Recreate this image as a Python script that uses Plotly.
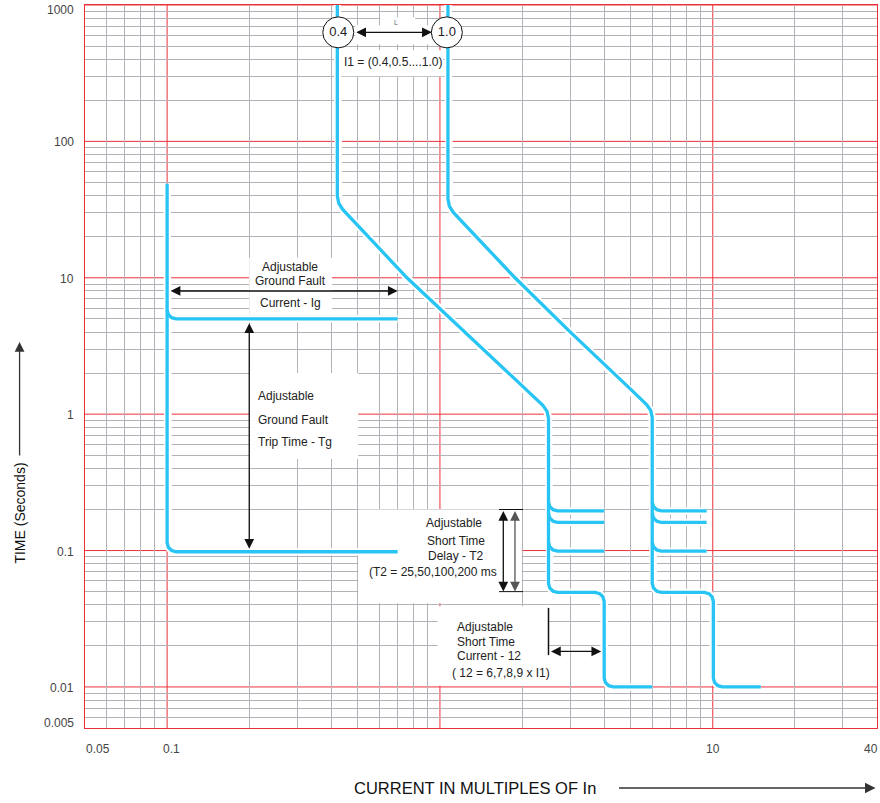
import numpy as np
import plotly.graph_objects as go

# ---------------- data ----------------
# axis labels
x_tick_vals = [0.05, 0.1, 10, 40]
x_tick_text = ["0.05", "0.1", "10", "40"]
y_tick_vals = [1000, 100, 10, 1, 0.1, 0.01, 0.005]
y_tick_text = ["1000", "100", "10", "1", "0.1", "0.01", "0.005"]

# grid
x_decades = [0.1, 1, 10]
x_minor = [0.06, 0.07, 0.08, 0.09, 0.2, 0.3, 0.4, 0.5, 0.6, 0.7, 0.8, 0.9,
           2, 3, 4, 5, 6, 7, 8, 9, 20, 30]
y_decades = [0.01, 0.1, 1, 10, 100, 1000]
y_minor = [0.006, 0.007, 0.008, 0.009,
           0.02, 0.03, 0.04, 0.05, 0.06, 0.07, 0.08, 0.09,
           0.2, 0.3, 0.4, 0.5, 0.6, 0.7, 0.8, 0.9,
           2, 3, 4, 5, 6, 7, 8, 9,
           20, 30, 40, 50, 60, 70, 80, 90,
           200, 300, 400, 500, 600, 700, 800, 900]

# ground fault curve (current in multiples of In, time in s)
gf_I = [0.1, 0.1, 0.101, 0.1039, 0.1079, 0.7]
gf_t = [49, 0.114, 0.1057, 0.1, 0.098, 0.098]
gf5_I = [0.1, 0.101, 0.1039, 0.1079, 0.7]
gf5_t = [5.82, 5.39, 5.10, 5.0, 5.0]

# long-time / short-time / instantaneous curve, I1 = 0.4
c04_I = [0.4206, 0.4206, 0.4256, 0.44, 0.757, 1.0, 2.02, 2.383, 2.469, 2.5,
         2.5, 2.526, 2.597, 2.697,
         3.708, 3.851, 3.959, 4.0,
         4.0, 4.041, 4.155, 4.315, 6.0]
c04_t = [1000, 39.85, 35.24, 31.68, 10, 5.96, 1.585, 1.16, 1.049, 0.93,
         0.0574, 0.05319, 0.05031, 0.0493,
         0.0493, 0.04831, 0.04569, 0.04235,
         0.01164, 0.01079, 0.01021, 0.01, 0.01]
c04_band_I = [2.5, 2.526, 2.597, 2.697, 4.0]

# same curve, I1 = 1.0
c10_I = [1.07, 1.07, 1.0826, 1.1195, 1.884, 3.0, 5.04, 5.72, 5.926, 6.0,
         6.0, 6.062, 6.232, 6.473,
         9.316, 9.676, 9.948, 10.05,
         10.05, 10.15, 10.44, 10.84, 15]
c10_t = [1000, 37.95, 33.55, 30.17, 10, 4.01, 1.5, 1.178, 1.065, 0.944,
         0.0574, 0.05319, 0.05031, 0.0493,
         0.0493, 0.04831, 0.04569, 0.04235,
         0.01164, 0.01079, 0.01021, 0.01, 0.01]
c10_band_I = [6.0, 6.062, 6.232, 6.473, 9.5]

# short-time delay bands (shared)
band_t_02 = [0.2275, 0.2108, 0.1994, 0.1954, 0.1954]
band_t_016 = [0.1871, 0.1734, 0.164, 0.1607, 0.1607]
band_t_01 = [0.1152, 0.1068, 0.101, 0.099, 0.099]

# I1 setting markers
i1_labels = ["0.4", "1.0"]
i1_label_I = [0.424, 1.06]
i1_label_t = [630, 630]

# annotated ranges
gf_current_span = [0.1, 0.7]      # at t = 8 s
gf_current_t = 8.0
gf_trip_span = [5.0, 0.098]       # at I = 0.2
gf_trip_I = 0.2
st_delay_span = [0.2, 0.05]       # arrows at I = 1.707 and 1.884
st_delay_I = [1.707, 1.884]
st_delay_tick_I = [1.647, 2.016]
st_current_span = [2.5, 4.0]      # at t = 0.0182
st_current_t = 0.0182
st_current_mark_t = [0.038, 0.0171]

# white label backgrounds (I0, I1, t0, t1)
label_boxes = [
    (0.2, 0.402, 5.0, 14.0),
    (0.2, 0.502, 0.47, 2.0),
    (0.502, 1.994, 0.041, 0.2),
    (0.98, 2.49, 0.0102, 0.039),
    (0.431, 1.027, 300, 466),
    (0.489, 0.937, 516, 711),
    (0.604, 0.812, 711, 814),
]

# ---------------- style ----------------
FONT = "Liberation Sans, Arial, Helvetica, sans-serif"
BLUE = "#27c4f4"
RED = "#ec3039"
GRAY = "#b2b2b8"
W, H = 880, 803
ML, MR, MT, MB = 84.5, 2.5, 5, 75
PW, PH = W - ML - MR, H - MT - MB


def px(x):
    return (x - ML) / PW


def py(y):
    return (H - MB - y) / PH


fig = go.Figure()

curves = [
    (gf_I, gf_t), (gf5_I, gf5_t),
    (c04_I, c04_t), (c04_band_I, band_t_02), (c04_band_I, band_t_016), (c04_band_I, band_t_01),
    (c10_I, c10_t), (c10_band_I, band_t_02), (c10_band_I, band_t_016), (c10_band_I, band_t_01),
]
for I, t in curves:
    fig.add_trace(go.Scatter(x=I, y=t, mode="lines", hoverinfo="skip", showlegend=False,
                             line=dict(color="white", width=7.5)))
for I, t in curves:
    fig.add_trace(go.Scatter(x=I, y=t, mode="lines", showlegend=False,
                             line=dict(color=BLUE, width=3.3)))

fig.add_trace(go.Scatter(x=i1_label_I, y=i1_label_t, mode="markers+text", text=i1_labels,
                         textposition="middle center", showlegend=False,
                         textfont=dict(size=13, color="#222", family=FONT),
                         marker=dict(size=31, color="white", line=dict(color="#111", width=1))))

shapes = []
# decade grid lines (red)
for v in x_decades:
    shapes.append(dict(type="line", xref="x", yref="paper", x0=v, x1=v, y0=0, y1=1,
                       line=dict(color=RED, width=1), layer="between"))
for v in y_decades:
    shapes.append(dict(type="line", xref="paper", yref="y", x0=0, x1=1, y0=v, y1=v,
                       line=dict(color=RED, width=1), layer="between"))
for i0, i1, t0, t1 in label_boxes:
    shapes.append(dict(type="rect", xref="x", yref="y", x0=i0, x1=i1, y0=t0, y1=t1,
                       fillcolor="white", line=dict(width=0), layer="between"))
for tt in st_delay_span:
    shapes.append(dict(type="line", xref="x", yref="y", x0=st_delay_tick_I[0], x1=st_delay_tick_I[1],
                       y0=tt, y1=tt, line=dict(color="#111", width=1)))
shapes.append(dict(type="line", xref="x", yref="y", x0=st_current_span[0], x1=st_current_span[0],
                   y0=st_current_mark_t[0], y1=st_current_mark_t[1], line=dict(color="#111", width=1.5)))

L10 = np.log10
ann = []


def arrow(x0, y0, x1, y1, color="#111", standoff=0, startstandoff=0, width=1.3):
    ann.append(dict(x=float(L10(x1)), y=float(L10(y1)), ax=float(L10(x0)), ay=float(L10(y0)),
                    xref="x", yref="y", axref="x", ayref="y", text="", showarrow=True,
                    arrowhead=2, arrowsize=1.5, arrowwidth=width, arrowcolor=color,
                    arrowside="end+start", startarrowhead=2, startarrowsize=1.5,
                    standoff=standoff, startstandoff=startstandoff))


arrow(i1_label_I[0], i1_label_t[0], i1_label_I[1], i1_label_t[1], standoff=15, startstandoff=16.5)
arrow(gf_current_span[0], gf_current_t, gf_current_span[1], gf_current_t, startstandoff=2)
arrow(gf_trip_I, gf_trip_span[0], gf_trip_I, gf_trip_span[1], standoff=3, startstandoff=3)
arrow(st_delay_I[0], st_delay_span[0], st_delay_I[0], st_delay_span[1], color="#111")
arrow(st_delay_I[1], st_delay_span[0], st_delay_I[1], st_delay_span[1], color="#555")
arrow(st_current_span[0], st_current_t, st_current_span[1], st_current_t, standoff=3, startstandoff=1)


def text(s, x, y, anchor="center", size=12, color="#222", angle=0):
    ann.append(dict(text=s, x=px(x), y=py(y), xref="paper", yref="paper", xanchor=anchor,
                    yanchor="middle", showarrow=False, textangle=angle,
                    font=dict(size=size, color=color, family=FONT)))


# label texts
text("Adjustable", 290, 266.7)
text("Ground Fault", 290, 281.3)
text("Current - Ig", 290, 302.7)
text("Adjustable", 256, 396, "left")
text("Ground Fault", 256, 419.5, "left")
text("Trip Time - Tg", 256, 441.5, "left")
text("Adjustable", 454, 523.3)
text("Short Time", 455.5, 540.7)
text("Delay - T2", 455, 555.7)
text("(T2 = 25,50,100,200 ms", 432.5, 571.7)
text("Adjustable", 455, 626.7, "left")
text("Short Time", 455, 642.3, "left")
text("Current - 12", 455, 655.7, "left")
text("( 12 = 6,7,8,9 x I1)", 450, 673.3, "left")
text("I1 = (0.4,0.5....1.0)", 392.5, 62.3)
text("L", 396, 22.5, size=7, color="#666")

# axis titles
text("TIME (Seconds)", 19, 513, size=14, color="#111", angle=-90)
text("CURRENT IN MULTIPLES OF In", 474.5, 788, size=16.5, color="#111")
ann.append(dict(x=px(19), y=py(342), xref="paper", yref="paper", ax=0, ay=115, text="",
                showarrow=True, arrowhead=2, arrowsize=1.5, arrowwidth=1.3, arrowcolor="#333"))
ann.append(dict(x=px(876), y=py(788), xref="paper", yref="paper", ax=-258, ay=0, text="",
                showarrow=True, arrowhead=2, arrowsize=1.4, arrowwidth=1.5, arrowcolor="#333"))

# tick labels
x_shift = {0.05: 13, 0.1: 4, 10: 0, 40: -6}
for v, s in zip(x_tick_vals, x_tick_text):
    ann.append(dict(text=s, x=float(L10(v)), y=0, xref="x", yref="paper", xanchor="center",
                    yanchor="middle", yshift=-20.5, xshift=x_shift[v], showarrow=False,
                    font=dict(size=12, color="#444", family=FONT)))
y_shift = {1000: -5, 0.005: 5.3}
for v, s in zip(y_tick_vals, y_tick_text):
    ann.append(dict(text=s, x=0, y=float(L10(v)), xref="paper", yref="y", xanchor="right",
                    yanchor="middle", xshift=-9.5, yshift=y_shift.get(v, -1), showarrow=False,
                    font=dict(size=12, color="#444", family=FONT)))

fig.update_layout(
    width=W, height=H, margin=dict(l=ML, r=MR, t=MT, b=MB, pad=0, autoexpand=False),
    paper_bgcolor="white", plot_bgcolor="white", showlegend=False,
    font=dict(family=FONT),
    shapes=shapes, annotations=ann,
    xaxis=dict(type="log", range=[float(L10(0.05)), float(L10(40))], tickmode="array",
               tickvals=x_decades, showticklabels=False, ticks="", showgrid=False,
               zeroline=False, showline=True, linecolor=RED,
               linewidth=1, mirror=True, fixedrange=True,
               minor=dict(tickmode="array", tickvals=x_minor, showgrid=True,
                          gridcolor=GRAY, gridwidth=1, ticks="")),
    yaxis=dict(type="log", range=[float(L10(0.005)), 3], tickmode="array",
               tickvals=y_decades, showticklabels=False, ticks="", showgrid=False,
               zeroline=False, showline=True, linecolor=RED,
               linewidth=1, mirror=True, fixedrange=True,
               minor=dict(tickmode="array", tickvals=y_minor, showgrid=True,
                          gridcolor=GRAY, gridwidth=1, ticks="")),
)

fig.write_html(
    "out.html",
    config={"displayModeBar": False, "staticPlot": True},
    post_script="document.body.style.margin='0';document.body.style.overflow='hidden';",
)
